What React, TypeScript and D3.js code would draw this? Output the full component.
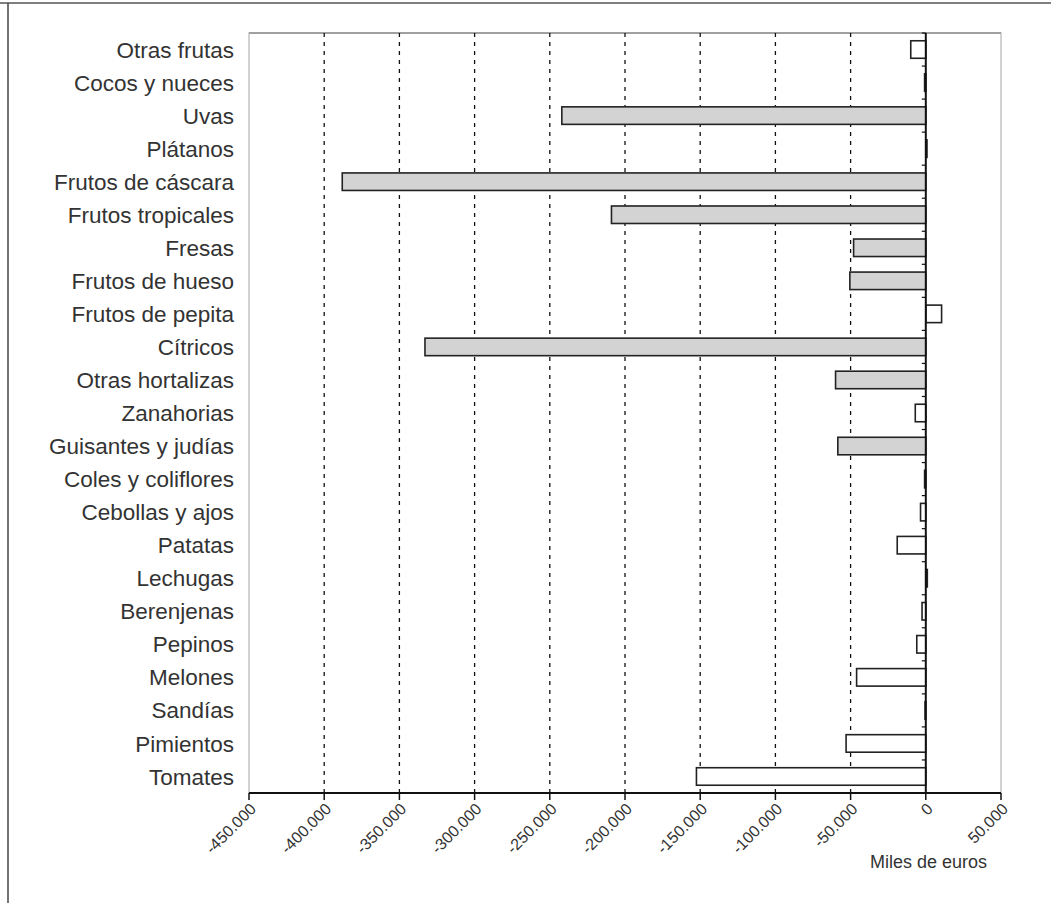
import React from 'react';
import * as d3 from 'd3';

// categorías de arriba a abajo
const categorias = [
  'Otras frutas', 'Cocos y nueces', 'Uvas', 'Plátanos', 'Frutos de cáscara',
  'Frutos tropicales', 'Fresas', 'Frutos de hueso', 'Frutos de pepita', 'Cítricos',
  'Otras hortalizas', 'Zanahorias', 'Guisantes y judías', 'Coles y coliflores',
  'Cebollas y ajos', 'Patatas', 'Lechugas', 'Berenjenas', 'Pepinos', 'Melones',
  'Sandías', 'Pimientos', 'Tomates',
];

// saldo, miles de euros
const valores = [
  -10000, -800, -242000, 800, -388000,
  -209000, -48000, -50500, 10500, -333000,
  -60000, -7000, -58500, -800,
  -3500, -19000, 1000, -2500, -6000, -46000,
  -500, -53000, -152500,
];

// relleno gris o blanco
const grupos = [
  'blanco', 'blanco', 'gris', 'blanco', 'gris',
  'gris', 'gris', 'gris', 'blanco', 'gris',
  'gris', 'blanco', 'gris', 'blanco',
  'blanco', 'blanco', 'blanco', 'blanco', 'blanco', 'blanco',
  'blanco', 'blanco', 'blanco',
];

const ticksX = [-450000, -400000, -350000, -300000, -250000, -200000, -150000, -100000, -50000, 0, 50000];

const es = d3.formatLocale({ decimal: ',', thousands: '.', grouping: [3], currency: ['', '€'], minus: '-' });
const fmt = es.format(',d');

const FONT = "'Liberation Sans', Arial, sans-serif";

const App = () => {
  const W = 1051, H = 903;
  const left = 249, right = 1001, top = 33, bottom = 793;

  const x = d3.scaleLinear().domain([-450000, 50000]).range([left, right]);
  const y = d3.scaleBand<string>().domain(categorias).range([top, bottom]).paddingInner(0.47).paddingOuter(0.235);
  const step = y.step();
  const x0 = x(0);

  return (
    <svg width={W} height={H} style={{ position: 'absolute', left: 0, top: 0, background: '#fff' }}
      fontFamily={FONT}>
      {/* marco exterior */}
      <line x1={0} x2={W} y1={3} y2={3} stroke="#555" strokeWidth={1.5} />
      <line x1={8} x2={8} y1={3} y2={H} stroke="#444" strokeWidth={1.5} />

      {/* borde del área */}
      <rect x={left} y={top} width={right - left} height={bottom - top} fill="none" stroke="#b5b5b5" strokeWidth={1.2} />
      <line x1={left} x2={right} y1={top} y2={top} stroke="#a0a0a0" strokeWidth={2} />

      {/* rejilla */}
      {ticksX.filter(t => t > -450000 && t < 0).map(t => (
        <line key={t} x1={x(t)} x2={x(t)} y1={top} y2={bottom} stroke="#111" strokeWidth={1.3} strokeDasharray="4,5" />
      ))}

      {/* barras */}
      {categorias.map((c, i) => {
        const v = valores[i];
        return (
          <rect key={c}
            x={Math.min(x(v), x0)} y={y(c)!}
            width={Math.abs(x(v) - x0)} height={y.bandwidth()}
            fill={grupos[i] === 'gris' ? '#d3d3d3' : '#fff'}
            stroke="#222" strokeWidth={1.6} />
        );
      })}

      {/* eje del cero */}
      <line x1={x0} x2={x0} y1={top} y2={bottom} stroke="#111" strokeWidth={2} />
      {categorias.map((c, i) => (
        <line key={'t' + c} x1={x0 - 4} x2={x0} y1={top + i * step} y2={top + i * step} stroke="#111" strokeWidth={1.2} />
      ))}

      {/* etiquetas de categoría */}
      {categorias.map(c => (
        <text key={'l' + c} x={234} y={y(c)! + y.bandwidth() / 2} dy="0.36em" textAnchor="end"
          fontSize={22.5} fill="#333">{c}</text>
      ))}

      {/* eje X */}
      <line x1={left} x2={right} y1={bottom} y2={bottom} stroke="#111" strokeWidth={2} />
      {ticksX.map(t => (
        <g key={'x' + t} transform={`translate(${x(t)},${bottom})`}>
          <line y1={0} y2={7} stroke="#111" strokeWidth={1.5} />
          <text transform="translate(8,17) rotate(-45)" textAnchor="end" fontSize={16} fill="#333">
            {fmt(t)}
          </text>
        </g>
      ))}

      <text x={987} y={868} textAnchor="end" fontSize={18} fill="#333">Miles de euros</text>
    </svg>
  );
};

export default App;
